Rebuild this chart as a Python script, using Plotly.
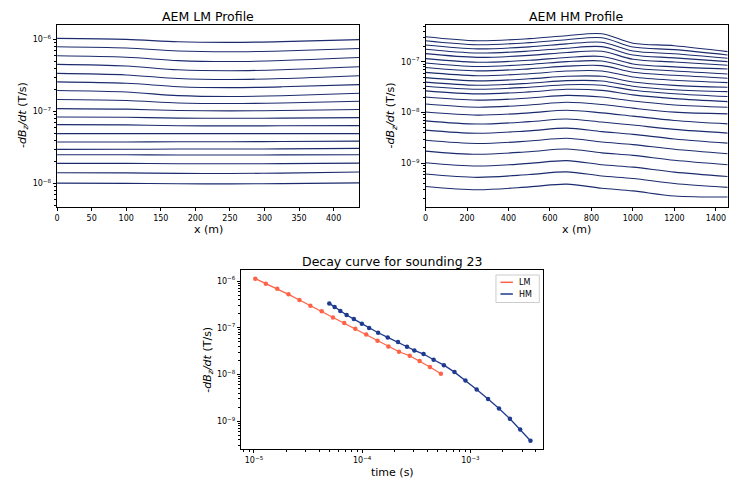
import plotly.graph_objects as go

W, H = 729, 481

# ---------------- data ----------------
lm_x = [0, 100, 175, 250, 325, 437]
lm_profile_log10 = [
    [-5.983, -5.997, -6.031, -6.039, -6.029, -6.001],
    [-6.100, -6.118, -6.159, -6.170, -6.158, -6.124],
    [-6.225, -6.245, -6.292, -6.305, -6.291, -6.249],
    [-6.345, -6.367, -6.420, -6.433, -6.419, -6.377],
    [-6.470, -6.491, -6.541, -6.554, -6.541, -6.502],
    [-6.587, -6.607, -6.654, -6.667, -6.656, -6.625],
    [-6.707, -6.728, -6.778, -6.790, -6.779, -6.745],
    [-6.832, -6.846, -6.880, -6.888, -6.880, -6.856],
    [-6.958, -6.966, -6.985, -6.990, -6.985, -6.971],
    [-7.074, -7.079, -7.090, -7.093, -7.090, -7.084],
    [-7.180, -7.184, -7.196, -7.198, -7.197, -7.194],
    [-7.305, -7.305, -7.305, -7.305, -7.305, -7.305],
    [-7.422, -7.421, -7.418, -7.418, -7.415, -7.409],
    [-7.524, -7.523, -7.520, -7.520, -7.517, -7.510],
    [-7.598, -7.599, -7.602, -7.602, -7.601, -7.598],
    [-7.719, -7.719, -7.723, -7.723, -7.722, -7.715],
    [-7.848, -7.851, -7.857, -7.858, -7.854, -7.839],
    [-7.993, -7.996, -8.002, -8.003, -8.000, -7.989],
]

hm_x = [0, 250, 500, 680, 850, 1000, 1200, 1457]
hm_profile_log10 = [
    [-6.501, -6.580, -6.540, -6.481, -6.442, -6.629, -6.679, -6.797],
    [-6.580, -6.659, -6.619, -6.560, -6.521, -6.704, -6.757, -6.862],
    [-6.665, -6.742, -6.702, -6.643, -6.610, -6.783, -6.838, -6.927],
    [-6.750, -6.824, -6.785, -6.728, -6.698, -6.864, -6.919, -6.994],
    [-6.836, -6.909, -6.870, -6.813, -6.789, -6.947, -7.002, -7.065],
    [-6.935, -7.006, -6.967, -6.911, -6.892, -7.039, -7.097, -7.138],
    [-7.020, -7.089, -7.049, -6.994, -6.980, -7.118, -7.178, -7.237],
    [-7.109, -7.176, -7.136, -7.083, -7.073, -7.203, -7.264, -7.322],
    [-7.207, -7.272, -7.233, -7.180, -7.178, -7.296, -7.361, -7.408],
    [-7.310, -7.373, -7.333, -7.282, -7.284, -7.395, -7.462, -7.499],
    [-7.398, -7.460, -7.420, -7.369, -7.375, -7.479, -7.548, -7.586],
    [-7.479, -7.539, -7.499, -7.450, -7.460, -7.558, -7.627, -7.684],
    [-7.572, -7.631, -7.592, -7.540, -7.562, -7.651, -7.724, -7.783],
    [-7.694, -7.755, -7.712, -7.661, -7.694, -7.773, -7.850, -7.894],
    [-7.832, -7.894, -7.850, -7.797, -7.840, -7.913, -7.992, -8.026],
    [-7.990, -8.051, -8.006, -7.953, -8.006, -8.071, -8.156, -8.223],
    [-8.164, -8.227, -8.180, -8.126, -8.187, -8.247, -8.333, -8.406],
    [-8.347, -8.410, -8.361, -8.308, -8.377, -8.430, -8.521, -8.604],
    [-8.548, -8.611, -8.562, -8.507, -8.582, -8.633, -8.726, -8.815],
    [-8.761, -8.825, -8.773, -8.720, -8.797, -8.846, -8.943, -9.032],
    [-8.992, -9.057, -9.004, -8.949, -9.032, -9.079, -9.176, -9.262],
    [-9.215, -9.280, -9.225, -9.172, -9.254, -9.302, -9.402, -9.479],
    [-9.460, -9.525, -9.469, -9.414, -9.495, -9.548, -9.649, -9.669],
]

lm_time = [1.028e-5, 1.288e-5, 1.641e-5, 2.084e-5, 2.630e-5, 3.319e-5, 4.227e-5,
           5.370e-5, 6.823e-5, 8.630e-5, 1.089e-4, 1.384e-4, 1.746e-4, 2.188e-4,
           2.748e-4, 3.396e-4, 4.227e-4, 5.333e-4]
lm_decay = [1.122e-6, 8.77e-7, 6.85e-7, 5.18e-7, 3.92e-7, 2.96e-7, 2.24e-7,
            1.66e-7, 1.26e-7, 9.53e-8, 7.19e-8, 5.26e-8, 3.98e-8, 3.06e-8,
            2.51e-8, 1.93e-8, 1.44e-8, 1.03e-8]
hm_time = [4.966e-5, 5.559e-5, 6.281e-5, 7.178e-5, 8.375e-5, 9.931e-5, 1.159e-4,
           1.403e-4, 1.722e-4, 2.143e-4, 2.594e-4, 3.034e-4, 3.690e-4, 4.571e-4,
           5.689e-4, 7.129e-4, 8.995e-4, 1.143e-3, 1.455e-3, 1.837e-3, 2.317e-3,
           2.884e-3, 3.589e-3]
hm_decay = [3.32e-7, 2.77e-7, 2.28e-7, 1.87e-7, 1.53e-7, 1.22e-7, 9.84e-8,
            7.82e-8, 6.21e-8, 4.93e-8, 3.92e-8, 3.27e-8, 2.73e-8, 2.06e-8,
            1.58e-8, 1.12e-8, 7.43e-9, 4.78e-9, 2.96e-9, 1.87e-9, 1.12e-9,
            6.62e-10, 3.79e-10]

lm_xticks = [0, 50, 100, 150, 200, 250, 300, 350, 400]
hm_xticks = [0, 200, 400, 600, 800, 1000, 1200, 1400]
legend_names = ["LM", "HM"]

# ---------------- style ----------------
FONT = "DejaVu Sans"
PROF_COLOR = "#1b2b6e"
LM_COLOR = "#ff6347"
HM_COLOR = "#1f3a8f"


def dom_x(a, b):
    return [a / W, b / W]


def dom_y(top, bottom):
    return [1 - bottom / H, 1 - top / H]


def sup(e):
    return "10<sup>\u2212%d</sup>" % (-e)


def log_ticks(e0, e1):
    major = [10.0 ** e for e in range(e0, e1 + 1)]
    minor = [m * 10.0 ** e for e in range(e0 - 1, e1 + 1) for m in range(2, 10)]
    text = [sup(e) for e in range(e0, e1 + 1)]
    return major, text, minor


fig = go.Figure()

for row in lm_profile_log10:
    fig.add_trace(go.Scatter(x=lm_x, y=[10 ** v for v in row], mode="lines",
                             line=dict(color=PROF_COLOR, width=1.1, shape="spline", smoothing=0.9),
                             xaxis="x", yaxis="y", showlegend=False, hoverinfo="skip"))
for row in hm_profile_log10:
    fig.add_trace(go.Scatter(x=hm_x, y=[10 ** v for v in row], mode="lines",
                             line=dict(color=PROF_COLOR, width=1.1, shape="spline", smoothing=0.9),
                             xaxis="x2", yaxis="y2", showlegend=False, hoverinfo="skip"))

fig.add_trace(go.Scatter(x=lm_time, y=lm_decay, mode="lines+markers", name=legend_names[0],
                         line=dict(color=LM_COLOR, width=1.3), marker=dict(size=4.5, color=LM_COLOR),
                         xaxis="x3", yaxis="y3", showlegend=False))
fig.add_trace(go.Scatter(x=hm_time, y=hm_decay, mode="lines+markers", name=legend_names[1],
                         line=dict(color=HM_COLOR, width=1.3), marker=dict(size=4.5, color=HM_COLOR),
                         xaxis="x3", yaxis="y3", showlegend=False))

axis_common = dict(showline=True, mirror=True, linecolor="black", linewidth=0.8,
                   ticks="outside", ticklen=3.5, tickwidth=0.8, tickcolor="black",
                   showgrid=False, zeroline=False,
                   tickfont=dict(family=FONT, size=8, color="black"))

y1_major, y1_text, y1_minor = log_ticks(-8, -6)
y2_major, y2_text, y2_minor = log_ticks(-9, -7)
y3_major, y3_text, y3_minor = log_ticks(-9, -6)
x3_major, x3_text, x3_minor = log_ticks(-5, -3)

minor_style = dict(ticks="outside", ticklen=2, tickwidth=0.6, tickcolor="black", showgrid=False)

P1 = (54.3, 357.7, 25, 206.5)
P2 = (424.3, 727.7, 25, 206.5)
P3 = (239.3, 542.7, 270, 449)

fig.update_layout(
    width=W, height=H,
    margin=dict(l=0, r=0, t=0, b=0),
    paper_bgcolor="white", plot_bgcolor="white",
    font=dict(family=FONT, color="black"),
    showlegend=False,
    xaxis=dict(domain=dom_x(P1[0], P1[1]), range=[0, 437], tickvals=lm_xticks,
               anchor="y", **axis_common),
    yaxis=dict(domain=dom_y(P1[2], P1[3]), type="log", range=[-8.317, -5.798],
               tickvals=y1_major, ticktext=y1_text,
               minor=dict(tickvals=y1_minor, **minor_style), anchor="x", **axis_common),
    xaxis2=dict(domain=dom_x(P2[0], P2[1]), range=[0, 1457], tickvals=hm_xticks,
                anchor="y2", **axis_common),
    yaxis2=dict(domain=dom_y(P2[2], P2[3]), type="log", range=[-9.856, -6.27],
                tickvals=y2_major, ticktext=y2_text,
                minor=dict(tickvals=y2_minor, **minor_style), anchor="x2", **axis_common),
    xaxis3=dict(domain=dom_x(P3[0], P3[1]), type="log", range=[-5.117, -2.325],
                tickvals=x3_major, ticktext=x3_text,
                minor=dict(tickvals=x3_minor, **minor_style), anchor="y3", **axis_common),
    yaxis3=dict(domain=dom_y(P3[2], P3[3]), type="log", range=[-9.597, -5.764],
                tickvals=y3_major, ticktext=y3_text,
                minor=dict(tickvals=y3_minor, **minor_style), anchor="x3", **axis_common),
)


def ann(text, px, py, size, angle=0, xanchor="center"):
    fig.add_annotation(text=text, xref="paper", yref="paper", x=px / W, y=1 - py / H,
                       xanchor=xanchor, yanchor="middle", showarrow=False, textangle=angle,
                       font=dict(family=FONT, size=size, color="black"))


ylab = "-<i>dB<sub>z</sub>/dt</i> (T/s)"
ann("AEM LM Profile", (P1[0] + P1[1]) / 2, 16, 12.5)
ann("AEM HM Profile", (P2[0] + P2[1]) / 2, 16, 12.5)
ann("Decay curve for sounding 23", (P3[0] + P3[1]) / 2, 261, 12.5)
ann("x (m)", (P1[0] + P1[1]) / 2, 229, 11)
ann("x (m)", (P2[0] + P2[1]) / 2, 229, 11)
ann("time (s)", (P3[0] + P3[1]) / 2, 472.5, 11)
ann(ylab, 20, 115, 11, -90)
ann(ylab, 390, 115, 11, -90)
ann(ylab, 205, 359.5, 11, -90)

# legend (matplotlib style box, line-only handles)
fig.add_shape(type="rect", xref="paper", yref="paper",
              x0=495 / W, x1=538.5 / W, y0=1 - 302.5 / H, y1=1 - 275 / H,
              line=dict(color="#cccccc", width=1), fillcolor="rgba(255,255,255,0.8)")
for i, (nm, col) in enumerate(zip(legend_names, [LM_COLOR, HM_COLOR])):
    yy = 282.3 + i * 11.7
    fig.add_shape(type="line", xref="paper", yref="paper",
                  x0=499.5 / W, x1=512 / W, y0=1 - yy / H, y1=1 - yy / H,
                  line=dict(color=col, width=1.5))
    ann(nm, 516, yy, 8, xanchor="left")

fig.write_html("out.html")
